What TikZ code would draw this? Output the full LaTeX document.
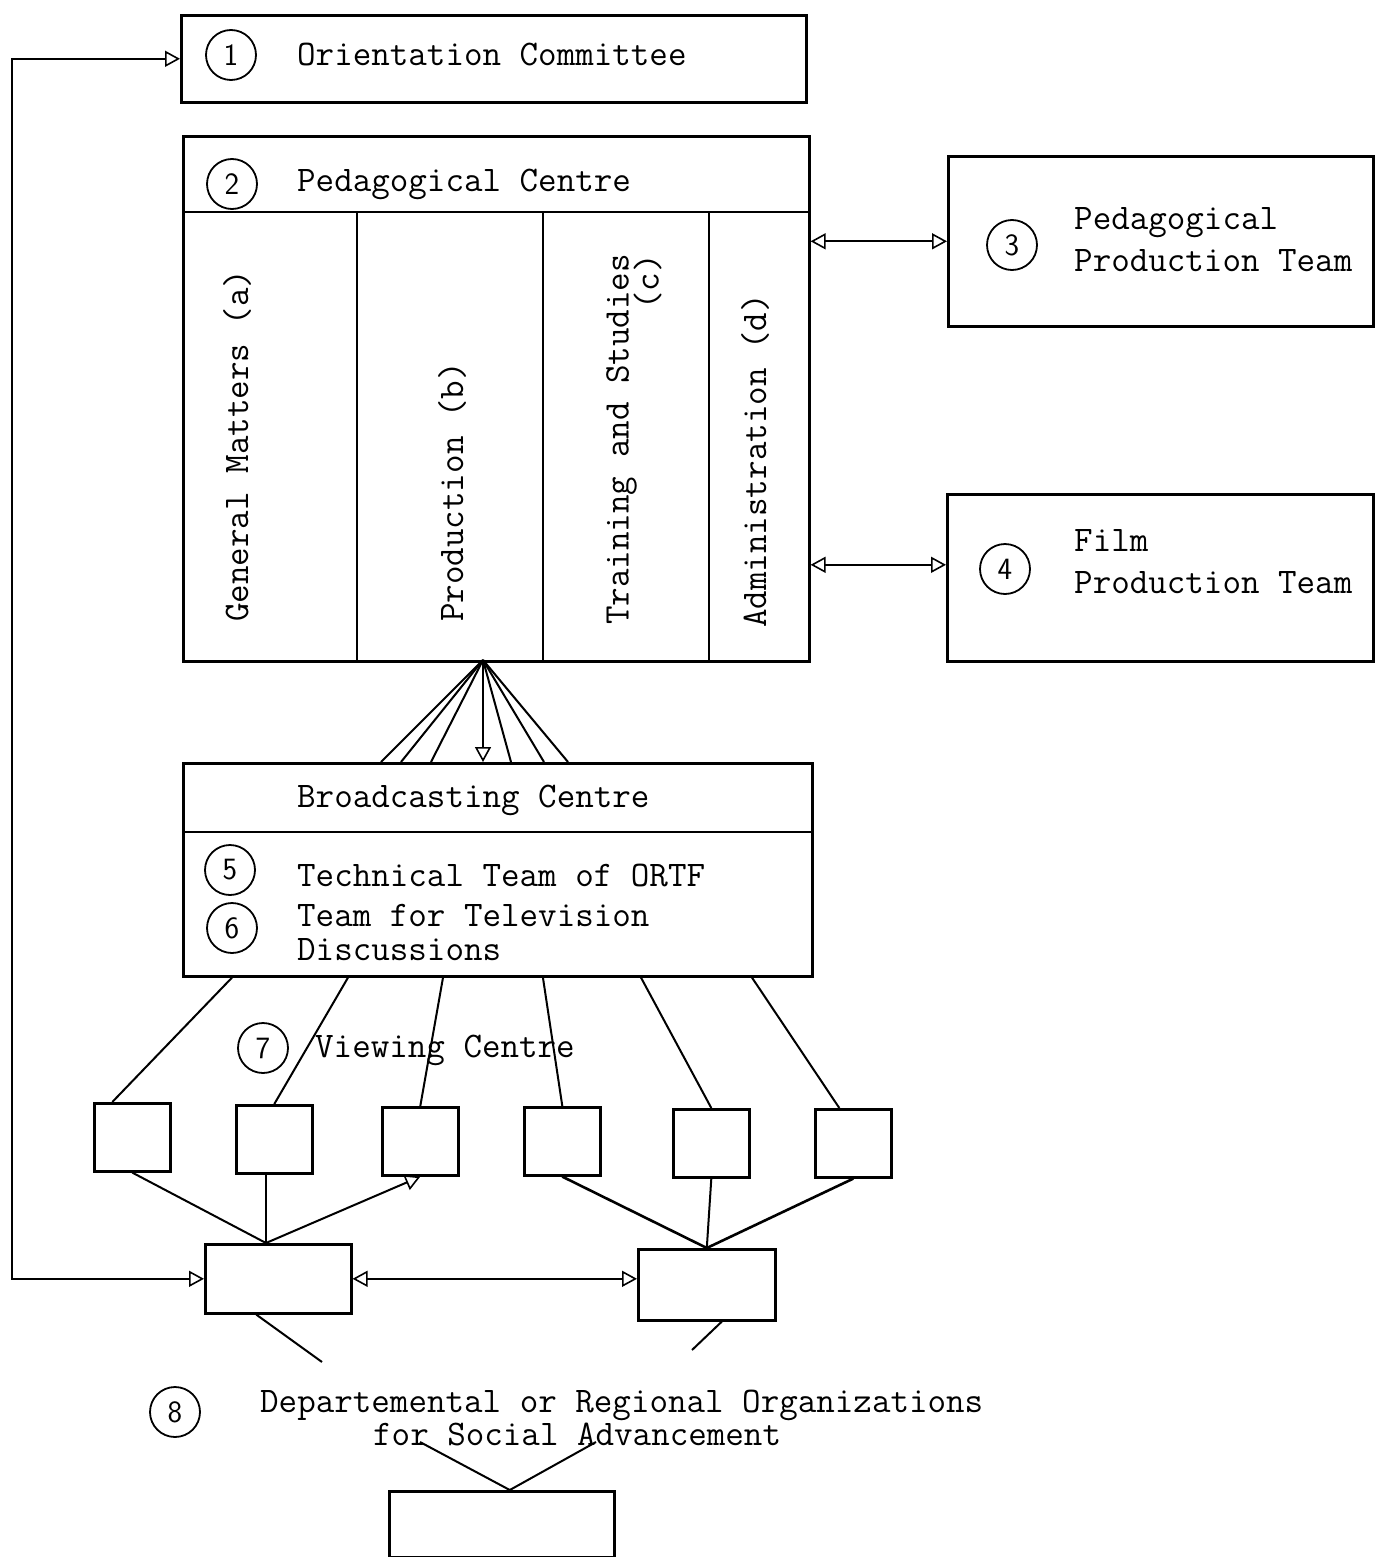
\documentclass[tikz,border=0pt]{standalone}
\usepackage{fontspec}
\usetikzlibrary{arrows.meta,positioning}

\begin{document}
\begin{tikzpicture}[x=1pt,y=-1pt,
					font=\ttfamily\fontsize{36}{40}\selectfont,
					box/.style={rectangle,
					draw=black,
					line width=2.6pt,
					inner sep=0pt,
					anchor=north west},
					smallbox/.style={box,
					minimum width=76pt,
					minimum height=68pt},
					num/.style={circle,
					draw=black,
					line width=1.8pt,
					minimum size=50pt,
					inner sep=0pt,
					font=\sffamily\fontsize{31}{31}\selectfont},
					lbl/.style={anchor=west, inner sep=0pt},
					vlbl/.style={anchor=west, inner sep=0pt, rotate=90},
					link/.style={line width=2pt},
					tip/.style={-{Triangle[open,length=15pt,width=16pt,line width=1.6pt]}},
					twotip/.style={{Triangle[open,length=15pt,width=16pt,line width=1.6pt]}-{Triangle[open,length=15pt,width=16pt,line width=1.6pt]}}
					]

\useasboundingbox (0,0) rectangle (1374,1557);

% top boxes
\node[box, minimum width=625pt, minimum height=87pt] (Orient) at (180,14) {};
\node[num] (N1) at (231,55) {1};
\node[lbl] (OrientT) at (297,55) {Orientation Committee};

\node[box, minimum width=626pt, minimum height=525pt] (Ped) at (182,135) {};
\node[num] (N2) at (232,184) {2};
\node[lbl] (PedT) at (297,184) {Pedagogical Centre};
\draw[link] (Ped.west |- 0,212) -- (Ped.east |- 0,212);
\draw[link] (357,212) -- (357,660);
\draw[link] (543,212) -- (543,660);
\draw[link] (709,212) -- (709,660);

% columns
\node[vlbl] (Gen) at (237,622) {General Matters (a)};
\node[vlbl] (Prod) at (452,622) {Production (b)};
\node[vlbl, align=right] (Train) at (634,625) {Training and Studies\\[-10pt](c)};
\node[vlbl] (Admin) at (755,628) {Administration (d)};

% teams on the right
\node[box, minimum width=425pt, minimum height=170pt] (PedTeam) at (947,155) {};
\node[num] (N3) at (1012,245) {3};
\node[lbl, align=left] (PedTeamT) at (1074,240) {Pedagogical\\[2pt]Production Team};

\node[box, minimum width=426pt, minimum height=167pt] (FilmTeam) at (946,493) {};
\node[num] (N4) at (1005,569) {4};
\node[lbl, align=left] (FilmTeamT) at (1074,562) {Film\\[2pt]Production Team};

% broadcasting
\node[box, minimum width=629pt, minimum height=213pt] (Bcast) at (182,762) {};
\draw[link] (Bcast.west |- 0,832) -- (Bcast.east |- 0,832);
\node[lbl] (BcastT) at (297,800) {Broadcasting Centre};
\node[num] (N5) at (230,870) {5};
\node[lbl] (TechT) at (297,875) {Technical Team of ORTF};
\node[num] (N6) at (232,928) {6};
\node[lbl, align=left, font=\ttfamily\fontsize{36}{34}\selectfont] (DiscT) at (297,932) {Team for Television\\Discussions};

% viewing centres
\node[num] (N7) at (263,1048) {7};
\node[lbl] (ViewT) at (315,1050) {Viewing Centre};
\node[smallbox] (VC1) at (93,1102) {};
\node[smallbox] (VC2) at (235,1104) {};
\node[smallbox] (VC3) at (381,1106) {};
\node[smallbox] (VC4) at (523,1106) {};
\node[smallbox] (VC5) at (672,1108) {};
\node[smallbox] (VC6) at (814,1108) {};

% regional
\node[box, minimum width=146pt, minimum height=69pt] (Reg1) at (204,1243) {};
\node[box, minimum width=137pt, minimum height=71pt] (Reg2) at (637,1248) {};
\node[num] (N8) at (175,1412) {8};
\node[lbl, align=left, font=\ttfamily\fontsize{36}{33}\selectfont] (DeptT) at (260,1418)
	{Departemental or Regional Organizations\\\hspace*{113pt}for Social Advancement};
\node[box, minimum width=225pt, minimum height=66pt] (Final) at (388,1490) {};

\coordinate (Fan) at (483,660);
\coordinate (HubA) at (266,1243);
\coordinate (Loop) at (12,700);
\coordinate (DeptL) at (322,1362);
\coordinate (DeptR) at (692,1350);
\coordinate (DeptA) at (420,1442);
\coordinate (DeptB) at (596,1442);

% Arrows
\draw[link, twotip] (Orient.west) -| (Loop) |- (Reg1.west);
\draw[link, twotip] (Ped.east |- PedTeam.west) -- (PedTeam.west);
\draw[link, twotip] ([yshift=13pt]Ped.east |- FilmTeam.west) -- ([yshift=13pt]FilmTeam.west);

\foreach \xx in {381,401,431,511,544,568}
	\draw[link] (Fan) -- (\xx,0 |- Bcast.north);
\draw[link, tip] (Fan) -- (Fan |- Bcast.north);

\draw[link] (232,0 |- Bcast.south) -- ([xshift=-20pt]VC1.north);
\draw[link] (348,0 |- Bcast.south) -- (VC2.north);
\draw[link] (443,0 |- Bcast.south) -- (VC3.north);
\draw[link] (543,978) -- (VC4.north);
\draw[link] (641,0 |- Bcast.south) -- (VC5.north);
\draw[link] (752,0 |- Bcast.south) -- ([xshift=-14pt]VC6.north);

\draw[link] (VC1.south) -- (HubA);
\draw[link] (VC2.south -| HubA) -- (HubA);
\draw[link, tip] (HubA) -- (VC3.south);
\draw[line width=2.6pt] (VC4.south) -- (Reg2.north);
\draw[link] (VC5.south) -- (Reg2.north);
\draw[line width=2.6pt] (VC6.south) -- (Reg2.north);

\draw[link, twotip] (Reg1.east) -- (Reg1.east -| Reg2.west);

\draw[link] ([xshift=-22pt]Reg1.south) -- (DeptL);
\draw[link] ([xshift=15pt]Reg2.south) -- (DeptR);
\draw[link] (DeptA) -- ([xshift=8pt]Final.north);
\draw[link] (DeptB) -- ([xshift=8pt]Final.north);

\end{tikzpicture}
\end{document}
